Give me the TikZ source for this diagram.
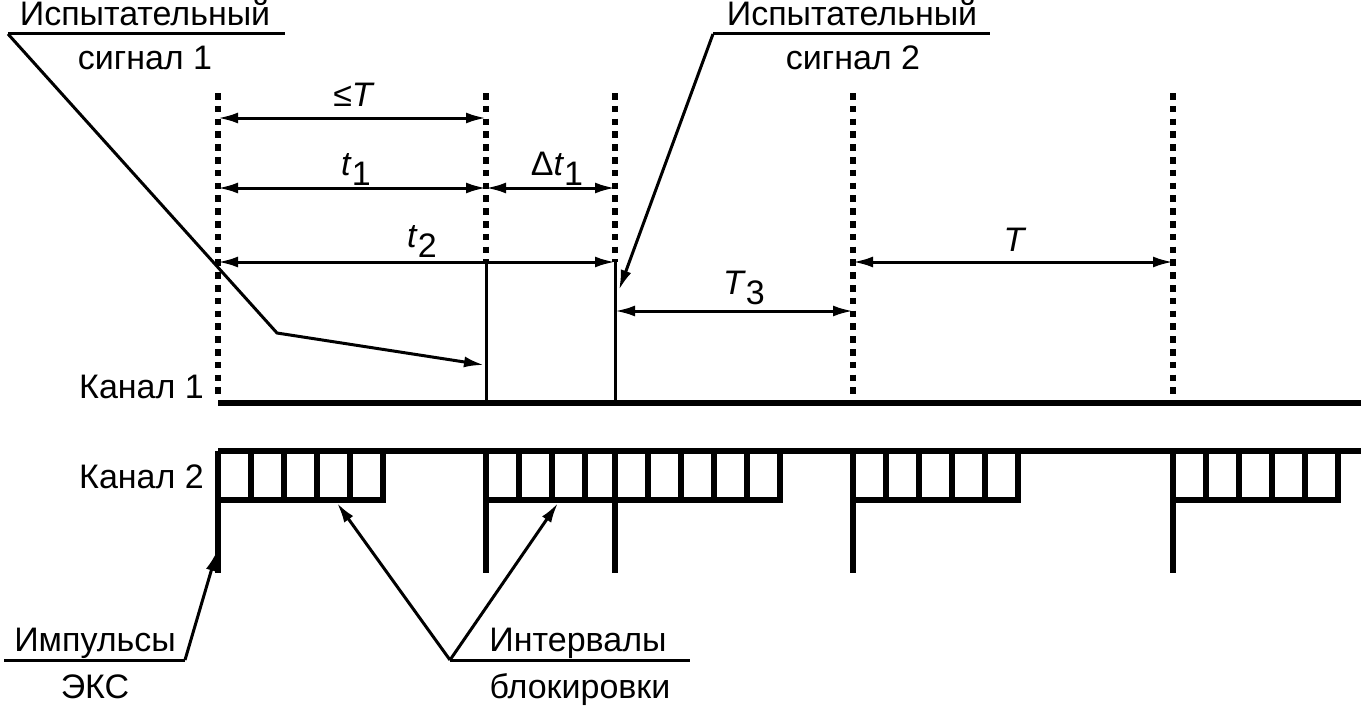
\documentclass[tikz,border=0pt]{standalone}
\usepackage{fontspec}
\setmainfont{Liberation Sans}
\usetikzlibrary{arrows.meta}
\begin{document}
\begin{tikzpicture}[x=1pt,y=-1pt,
  txt/.style={inner sep=0pt,anchor=base,font=\fontsize{34}{40}\selectfont},
  dotv/.style={line width=6.5pt,dash pattern=on 6.5pt off 6.3pt},
  heavy/.style={line width=6pt},
  thin/.style={line width=3pt},
  dim/.style={thin,{Latex[length=20pt,width=11pt]}-{Latex[length=20pt,width=11pt]}},
  lead/.style={thin,-{Latex[length=20pt,width=11pt]}}]
\useasboundingbox (0,0) rectangle (1365,709);
\newcommand{\sbs}[1]{\raisebox{-10pt}{#1}}
% dotted verticals
\draw[dotv] (218,93) -- (218,400);
\draw[dotv] (486,93) -- (486,262);
\draw[dotv] (615,93) -- (615,262);
\draw[dotv] (853,93) -- (853,400);
\draw[dotv] (1173,93) -- (1173,400);
% thin solid verticals
\draw[thin] (486,262) -- (486,400);
\draw[thin] (615,262) -- (615,400);
% channel 1 line
\draw[heavy] (218,403) -- (1361,403);
% channel 2 line
\draw[heavy] (218,451) -- (1361,451);
% pulses
\foreach \x in {218,486,615,853,1173} \draw[heavy] (\x,451) -- (\x,573);
% blocking cells
\foreach \s/\n in {218/5,853/5,1173/5} {
  \draw[heavy] (\s,500) -- (\s+\n*33,500);
  \foreach \k in {1,...,\n} \draw[heavy] (\s+\k*33,451) -- (\s+\k*33,503);
}
\draw[heavy] (486,500) -- (780,500);
\foreach \xx in {519,552,585,648,681,714,747,780} \draw[heavy] (\xx,451) -- (\xx,503);
% coordinates for dimensions
\coordinate (a1) at (218,118); \coordinate (b1) at (486,118);
\coordinate (a2) at (218,188); \coordinate (b2) at (486,188); \coordinate (c2) at (615,188);
\coordinate (a3) at (218,262); \coordinate (c3) at (615,262);
\coordinate (c4) at (615,311); \coordinate (d4) at (853,311);
\coordinate (d5) at (853,262); \coordinate (e5) at (1173,262);
\draw[dim] (a1) -- (b1);
\draw[dim] (a2) -- (b2);
\draw[dim] (b2) -- (c2);
\draw[dim] (a3) -- (c3);
\draw[dim] (c4) -- (d4);
\draw[dim] (d5) -- (e5);
% dimension labels
\node[txt] (lT) at (354,106) {≤\textit{T}};
\node[txt] (lt1) at (356,175) {\textit{t}\sbs{1}};
\node[txt] (ldt) at (557,175) {Δ\textit{t}\sbs{1}};
\node[txt] (lt2) at (422,247) {\textit{t}\sbs{2}};
\node[txt] (lT3) at (744,294) {\textit{T}\sbs{3}};
\node[txt] (lTT) at (1015,251) {\textit{T}};
% channel labels
\node[txt,anchor=base east] (k1) at (204,398) {Канал 1};
\node[txt,anchor=base east] (k2) at (204,488) {Канал 2};
% signal 1
\node[txt] (s1a) at (145,26) {Испытательный};
\node[txt] (s1b) at (145,70) {сигнал 1};
\coordinate (u1l) at (8,34); \coordinate (u1r) at (285,34);
\coordinate (m1) at (277,333); \coordinate (t1) at (484,365);
\draw[thin] (u1l) -- (u1r);
\draw[lead] (u1l) -- (m1) -- (t1);
% signal 2
\node[txt] (s2a) at (852,26) {Испытательный};
\node[txt] (s2b) at (853,70) {сигнал 2};
\coordinate (u2l) at (713,34); \coordinate (u2r) at (990,34);
\coordinate (t2) at (619,290);
\draw[thin] (u2l) -- (u2r);
\draw[lead] (u2l) -- (t2);
% impulses
\node[txt] (i1) at (95,651) {Импульсы};
\node[txt] (i2) at (95,698) {ЭКС};
\coordinate (u3l) at (4,660); \coordinate (u3r) at (185,660);
\coordinate (t3) at (217,551);
\draw[thin] (u3l) -- (u3r);
\draw[lead] (u3r) -- (t3);
% intervals
\node[txt] (b1n) at (578,651) {Интервалы};
\node[txt] (b2n) at (580,698) {блокировки};
\coordinate (u4l) at (450,660); \coordinate (u4r) at (690,660);
\coordinate (t4) at (337,503); \coordinate (t5) at (558,503);
\draw[thin] (u4l) -- (u4r);
\draw[lead] (u4l) -- (t4);
\draw[lead] (u4l) -- (t5);
\end{tikzpicture}
\end{document}
